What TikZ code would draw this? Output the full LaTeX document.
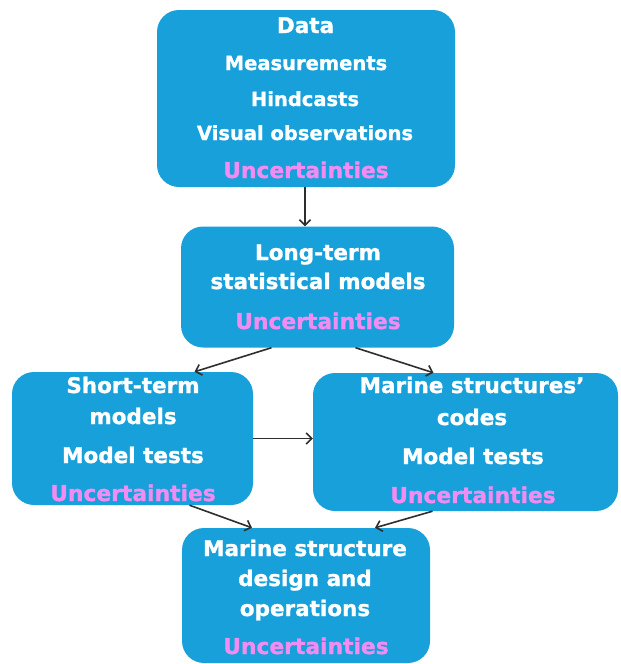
\documentclass[tikz,border=0pt]{standalone}
\usepackage{fontspec}
\setmainfont{DejaVu Sans}[BoldFeatures={FakeBold=1.2}]
\usetikzlibrary{arrows.meta,calc}
\definecolor{boxblue}{HTML}{17A0DA}
\definecolor{uncpink}{HTML}{F28CF2}
\definecolor{arrowgray}{HTML}{2E2E2E}
\begin{document}
\begin{tikzpicture}[x=1pt,y=-1pt,
  stage/.style={fill=boxblue, rounded corners=22pt, inner sep=0pt},
  head/.style={text=white, font=\bfseries\fontsize{21.5}{24}\selectfont, anchor=base, inner sep=0pt},
  item/.style={text=white, font=\bfseries\fontsize{19.5}{22}\selectfont, anchor=base, inner sep=0pt},
  unc/.style={text=uncpink, font=\bfseries\fontsize{21.8}{24}\selectfont, anchor=base, inner sep=0pt},
  flow/.style={draw=arrowgray, line width=1.6pt, -{Straight Barb[length=5.5pt,width=11pt]}}]
\useasboundingbox (0,0) rectangle (621,664);

% boxes
\node[stage, minimum width=298pt, minimum height=177pt] (data)  at (306,98.5) {};
\node[stage, minimum width=273pt, minimum height=121pt] (long)  at (317.5,287) {};
\node[stage, minimum width=241pt, minimum height=133pt] (short) at (132.5,438.5) {};
\node[stage, minimum width=305pt, minimum height=138pt] (codes) at (465.5,442) {};
\node[stage, minimum width=248pt, minimum height=135pt] (design) at (306,595.5) {};

% texts
\node[head] (d1) at (305.5,33) {Data};
\node[item] (d2) at (306,70) {Measurements};
\node[item] (d3) at (305,106) {Hindcasts};
\node[item] (d4) at (305,140) {Visual observations};
\node[unc]  (d5) at (306,178) {Uncertainties};

\node[head] (l1) at (318,260) {Long-term};
\node[head] (l2) at (318,289) {statistical models};
\node[unc]  (l3) at (318,329) {Uncertainties};

\node[head] (s1) at (133,393) {Short-term};
\node[head] (s2) at (133,424) {models};
\node[head] (s3) at (133,463) {Model tests};
\node[unc]  (s4) at (133,501) {Uncertainties};

\node[head] (c1) at (472,393) {Marine structures’};
\node[head] (c2) at (472,425) {codes};
\node[head] (c3) at (473,464) {Model tests};
\node[unc]  (c4) at (473,503) {Uncertainties};

\node[head] (m1) at (305,556) {Marine structure};
\node[head] (m2) at (305,586) {design and};
\node[head] (m3) at (305,616) {operations};
\node[unc]  (m4) at (306,654) {Uncertainties};

% connectors
\draw[flow] (data.south -| 305,0) -- (long.north -| 305,0);
\draw[flow] ($(long.south)+(-46,0)$) -- ($(short.north)+(62,0)$);
\draw[flow] ($(long.south)+(38,0)$) -- ($(codes.north)+(-32,0)$);
\draw[flow] (short.east) -- (short.east -| codes.west);
\draw[flow] ($(short.south)+(57,0)$) -- ($(design.north)+(-54,0)$);
\draw[flow] ($(codes.south)+(-33,0)$) -- ($(design.north)+(69,0)$);
\end{tikzpicture}
\end{document}
